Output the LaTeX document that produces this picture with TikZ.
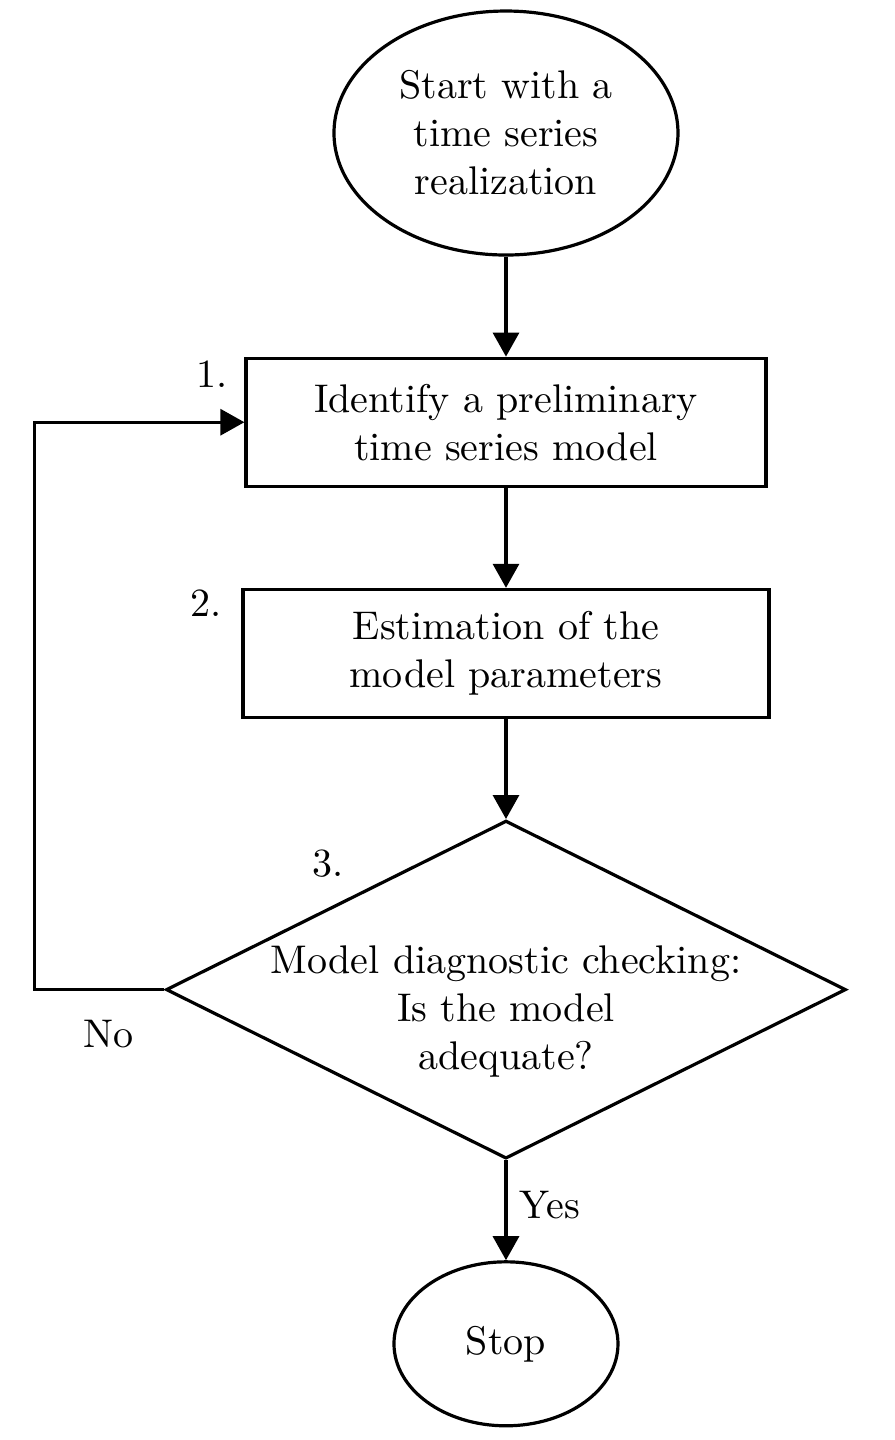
\documentclass[tikz,border=0pt]{standalone}
\usetikzlibrary{positioning,shapes.geometric,arrows.meta}

\tikzset{
  terminal/.style={draw, ellipse, line width=0.8pt, inner sep=0pt, align=center},
  process/.style={draw, rectangle, line width=0.8pt, minimum width=130pt,
    minimum height=32pt, inner sep=0pt, align=center},
  decision/.style={draw, diamond, line width=0.8pt, inner sep=0pt,
    minimum width=170pt, minimum height=84.5pt},
  flow/.style={line width=0.8pt, -{Triangle[length=6pt,width=6.5pt]}},
  stepnum/.style={inner sep=0pt}
}

\begin{document}
\begin{tikzpicture}[node distance=25pt]
    \useasboundingbox (-126.5pt,33.25pt) rectangle (97pt,-326.75pt);
    \node[terminal, minimum width=86pt, minimum height=61pt] (start) at (0,0)
        {Start with a\\time series\\realization};
    \node[process, below=of start] (ident) {Identify a preliminary\\time series model};
    \node[process, below=of ident, minimum width=131.5pt] (estim)
        {Estimation of the\\model parameters};
    \node[decision, below=of estim] (check) {};
    \node[align=center, inner sep=0pt] (checktext) at ([yshift=-5.5pt]check.center)
        {Model diagnostic checking:\\Is the model\\adequate?};
    \node[terminal, below=of check, minimum width=56pt, minimum height=41pt] (stop) {Stop};
    % step numbers
    \node[stepnum] (num1) at ([shift={(-8pt,-4.5pt)}]ident.north west) {1.};
    \node[stepnum] (num2) at ([shift={(-8.75pt,-3.75pt)}]estim.north west) {2.};
    \node[stepnum] (num3) at ([shift={(-44.5pt,-11.25pt)}]check.north) {3.};
    % connectors
    \draw[flow] (start) -- (ident);
    \draw[flow] (ident) -- (estim);
    \draw[flow] (estim) -- (check);
    \draw[flow] (check) -- (stop);
    \coordinate (back) at ([xshift=-32.5pt]check.west);
    \draw[flow] (check.west) -- (back) |- (ident.west);
    \node[stepnum] (no) at ([shift={(-14pt,-11pt)}]check.west) {No};
    \node[stepnum] (yes) at ([shift={(11pt,-11.25pt)}]check.south) {Yes};
\end{tikzpicture}
\end{document}
